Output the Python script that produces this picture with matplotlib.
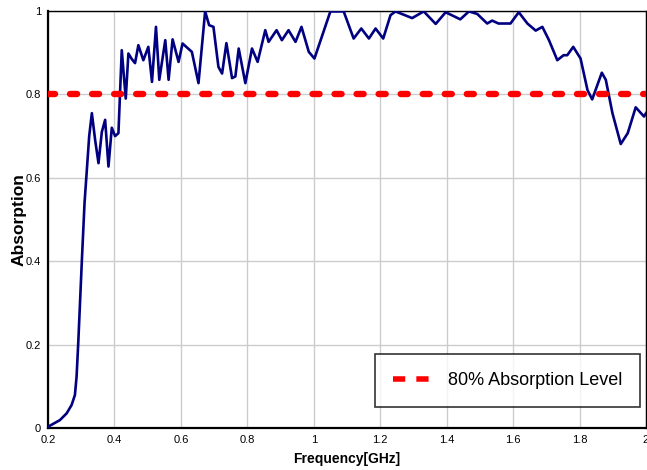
import matplotlib
matplotlib.use("Agg")
import matplotlib.pyplot as plt
from matplotlib.lines import Line2D
from matplotlib.ticker import FuncFormatter

# data
freq = [0.200, 0.236, 0.256, 0.271, 0.281, 0.286, 0.291, 0.302, 0.310, 0.317,
        0.324, 0.332, 0.342, 0.352, 0.362, 0.372, 0.382, 0.392, 0.402, 0.412,
        0.422, 0.434, 0.442, 0.452, 0.462, 0.472, 0.487, 0.502, 0.513, 0.525,
        0.535, 0.553, 0.563, 0.575, 0.593, 0.605, 0.633, 0.653, 0.673, 0.685,
        0.698, 0.713, 0.724, 0.737, 0.754, 0.764, 0.774, 0.794, 0.814, 0.831,
        0.854, 0.864, 0.888, 0.904, 0.924, 0.945, 0.963, 0.985, 1.002, 1.050,
        1.090, 1.120, 1.143, 1.166, 1.186, 1.209, 1.231, 1.246, 1.296, 1.331,
        1.367, 1.397, 1.441, 1.467, 1.492, 1.522, 1.537, 1.556, 1.592, 1.617,
        1.643, 1.668, 1.688, 1.708, 1.733, 1.752, 1.763, 1.781, 1.803, 1.824,
        1.838, 1.867, 1.879, 1.899, 1.924, 1.945, 1.969, 1.994, 2.000]
absorption = [0.003, 0.019, 0.035, 0.055, 0.079, 0.123, 0.203, 0.403, 0.540, 0.620,
              0.700, 0.755, 0.690, 0.635, 0.710, 0.739, 0.627, 0.720, 0.700, 0.707,
              0.906, 0.790, 0.898, 0.885, 0.875, 0.918, 0.882, 0.914, 0.830, 0.962,
              0.835, 0.930, 0.835, 0.932, 0.878, 0.922, 0.902, 0.827, 0.999, 0.966,
              0.962, 0.866, 0.850, 0.923, 0.839, 0.843, 0.910, 0.827, 0.910, 0.878,
              0.954, 0.926, 0.954, 0.930, 0.954, 0.926, 0.962, 0.902, 0.886, 0.999,
              0.999, 0.934, 0.958, 0.934, 0.958, 0.934, 0.990, 0.999, 0.983, 0.999,
              0.969, 0.997, 0.980, 0.999, 0.993, 0.970, 0.977, 0.970, 0.970, 0.997,
              0.970, 0.953, 0.962, 0.930, 0.882, 0.894, 0.894, 0.914, 0.886, 0.810,
              0.788, 0.852, 0.835, 0.755, 0.681, 0.707, 0.769, 0.747, 0.755]
level = 0.8
level_label = "80% Absorption Level"
x_ticks = [0.2, 0.4, 0.6, 0.8, 1.0, 1.2, 1.4, 1.6, 1.8, 2.0]
y_ticks = [0, 0.2, 0.4, 0.6, 0.8, 1.0]

plt.rcParams["font.family"] = ["Liberation Sans", "DejaVu Sans"]

fig = plt.figure(figsize=(6.47, 4.70), dpi=100)
ax = fig.add_axes([48 / 647, 1 - 428 / 470, 598 / 647, 417 / 470])

ax.plot(freq, absorption, color="#000080", lw=1.9, zorder=3)
ax.plot([0.2, 2.0], [level, level], color="#ff0000", lw=4.6,
        dashes=(1.1, 2.35), dash_capstyle="round", zorder=4)

ax.set_xlim(0.2, 2.0)
ax.set_ylim(0, 1)
ax.set_xticks(x_ticks)
ax.set_yticks(y_ticks)
fmt = FuncFormatter(lambda v, p: f"{v:g}")
ax.xaxis.set_major_formatter(fmt)
ax.yaxis.set_major_formatter(fmt)
ax.tick_params(length=0, labelsize=8, pad=5)
ax.grid(True, color="#cccccc", lw=1.0)
ax.set_axisbelow(True)
for side in ["top", "right"]:
    ax.spines[side].set_linewidth(1.0)
for side in ["left", "bottom"]:
    ax.spines[side].set_linewidth(1.6)

ax.set_xlabel("Frequency[GHz]", fontsize=10, fontweight="bold", labelpad=5)
ax.set_ylabel("Absorption", fontsize=12.5, fontweight="bold")
ax.yaxis.set_label_coords(-0.036, 0.5)

# legend handle: two square red dashes
handle = Line2D([], [], color="#ff0000", lw=4, linestyle=(0, (2.2, 2.0)),
                dash_capstyle="butt")
leg = ax.legend([handle], [level_label], loc="lower right", fontsize=13,
                frameon=True, fancybox=False, edgecolor="black",
                handlelength=2.0, handletextpad=1.0, borderpad=1.0,
                borderaxespad=0, bbox_to_anchor=(0.99, 0.05))
leg.get_frame().set_linewidth(1.2)

fig.savefig("out.png", dpi=100)
